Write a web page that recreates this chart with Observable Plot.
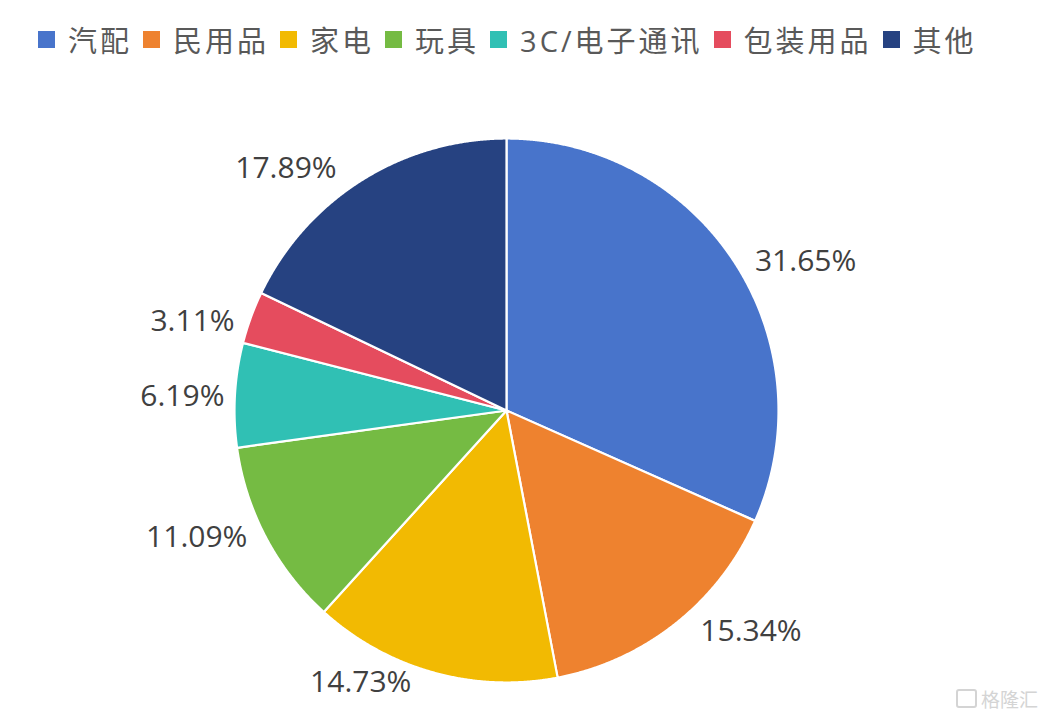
<!DOCTYPE html>
<html>
<head>
<meta charset="utf-8">
<script src="https://cdn.jsdelivr.net/npm/d3@7"></script>
<script src="https://cdn.jsdelivr.net/npm/@observablehq/plot@0.6"></script>
<style>
  html, body { margin: 0; padding: 0; background: #fff; }
  body { width: 1052px; height: 720px; overflow: hidden; position: relative;
         font-family: "Open Sans", "Noto Sans CJK SC", sans-serif; }
  #legend { position: absolute; left: 38px; top: 18px; height: 42px; display: flex; align-items: center;
            font-size: 29px; color: #595959; white-space: nowrap; }
  .item { display: flex; align-items: center; margin-right: 11px; }
  .txt { letter-spacing: 3px; }
  .sw { width: 17px; height: 17px; margin-right: 13px; }
  #chart { position: absolute; left: 0; top: 76px; }
  #wm { position: absolute; right: 14px; bottom: 8px; font-size: 19px; color: #d4d4d4;
        font-family: "Noto Sans CJK SC", sans-serif; display: flex; align-items: center; }
  #wm .ic { width: 17px; height: 15px; border: 2px solid #d4d4d4; border-radius: 3px; margin-right: 4px; }
</style>
</head>
<body>
<div id="legend"></div>
<div id="chart"></div>
<div id="wm"><span class="ic"></span>格隆汇</div>
<script>
const categories = ["汽配", "民用品", "家电", "玩具", "3C/电子通讯", "包装用品", "其他"];
const shares = [31.65, 15.34, 14.73, 11.09, 6.19, 3.11, 17.89];
const labels = ["31.65%", "15.34%", "14.73%", "11.09%", "6.19%", "3.11%", "17.89%"];
const colors = ["#4874CB", "#EE822F", "#F2BA02", "#75BB43", "#30C0B4", "#E54C5E", "#264281"];

// legend
const legend = document.getElementById("legend");
categories.forEach((c, i) => {
  const it = document.createElement("div");
  it.className = "item";
  it.innerHTML = `<span class="sw" style="background:${colors[i]}"></span><span class="txt">${c}</span>`;
  legend.appendChild(it);
});

const W = 1052, H = 644, cx = 506, cy = 334, R = 272;
const pie = d3.pie().sort(null).value(d => d)(shares);

// slice polygons in radius units (y up)
const pts = [];
pie.forEach((p, i) => {
  const cat = categories[i];
  pts.push({cat, x: 0, y: 0});
  const n = Math.max(2, Math.ceil((p.endAngle - p.startAngle) / 0.004));
  for (let k = 0; k <= n; k++) {
    const a = p.startAngle + (p.endAngle - p.startAngle) * k / n;
    pts.push({cat, x: Math.sin(a), y: Math.cos(a)});
  }
  pts.push({cat, x: 0, y: 0});
});

// label positions: outside end, pulled toward the horizontal, kept inside the frame
const fs = 30;
const yMin = -(H - cy - 38) / R; // lowest allowed label centre
const lab = pie.map((p, i) => {
  const mid = (p.startAngle + p.endAngle) / 2;
  const s = Math.sign(Math.sin(mid) * Math.cos(mid));
  const a = mid + s * 0.21 * Math.abs(Math.cos(mid));
  const w = labels[i].length * 17.5, h = 32;
  const d = R + 8 + Math.abs(Math.sin(a)) * w / 2 + Math.abs(Math.cos(a)) * h / 2;
  return { text: labels[i], x: d * Math.sin(a) / R, y: Math.max(yMin, d * Math.cos(a) / R) };
});

const chart = Plot.plot({
  width: W, height: H,
  margin: 0,
  x: {domain: [-cx / R, (W - cx) / R], range: [0, W], axis: null},
  y: {domain: [-(H - cy) / R, cy / R], range: [H, 0], axis: null},
  color: {domain: categories, range: colors},
  style: {background: "transparent"},
  marks: [
    Plot.line(pts, {x: "x", y: "y", z: "cat", fill: "cat", stroke: "white", strokeWidth: 2.2, strokeLinejoin: "round", curve: "linear"}),
    Plot.text(lab, {x: "x", y: "y", text: "text", fontSize: fs, fill: "#404040", textAnchor: "middle", lineAnchor: "middle",
      fontFamily: "Open Sans, Noto Sans CJK SC, sans-serif"})
  ]
});
document.getElementById("chart").appendChild(chart);
</script>
</body>
</html>
